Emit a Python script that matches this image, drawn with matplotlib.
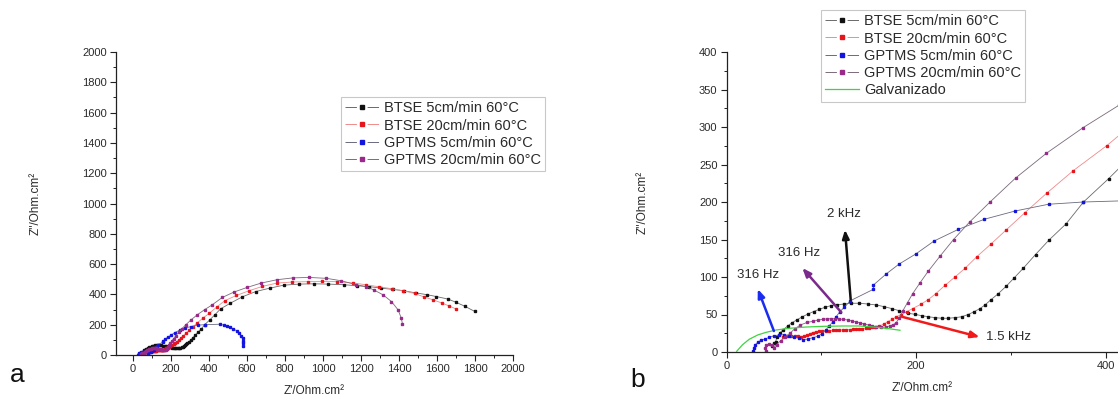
import matplotlib
matplotlib.use("Agg")
import matplotlib.pyplot as plt
from matplotlib.ticker import MultipleLocator
from matplotlib.lines import Line2D

plt.rcParams['font.family'] = ['Liberation Sans', 'DejaVu Sans']

# ---------------- data (Z' , Z'') ----------------
labels = ["BTSE 5cm/min 60°C", "BTSE 20cm/min 60°C",
          "GPTMS 5cm/min 60°C", "GPTMS 20cm/min 60°C", "Galvanizado"]

btse5_x = [48, 50, 52, 53, 56, 60, 64.5, 69, 74, 80, 86, 92, 98, 104, 110, 117, 124, 131,
           140, 149, 158, 166.5, 174.6, 182.4, 191.9, 199, 206, 213, 220, 227, 234, 241,
           248, 255, 261, 267.5, 273, 279, 286, 295, 303.6, 313.3, 326, 340, 358.3, 376.6,
           403, 430, 461, 512, 575, 646, 719, 793, 874, 953, 1026, 1109, 1181, 1240, 1307,
           1368, 1425, 1488, 1548, 1596, 1658, 1698, 1746, 1798]
btse5_y = [8, 12, 14, 20, 25, 30, 34.6, 39, 42.7, 47, 50.7, 54, 57, 59.6, 61.8, 63, 64, 65,
           65, 64, 62.7, 60.4, 57.8, 55, 51.6, 50.2, 48.4, 47, 45.8, 45, 45, 45.8,
           47, 50, 53.6, 58, 63, 69.8, 77, 87.6, 99, 112, 130, 149, 171, 200,
           231, 265, 305, 342, 384, 419, 441, 461, 468, 470, 468, 464, 457, 452, 441,
           433, 424, 410, 398, 386, 369, 349, 322, 288]

btse20_x = [60, 64, 68, 72, 75, 79, 82, 85, 88, 91, 94.5, 98, 101, 105, 108.5, 112, 115,
            119, 122.6, 126, 130, 133, 136.7, 140, 143, 147, 150.8, 154, 157, 161.4, 166,
            170, 175, 179, 184.5, 190, 196.5, 205, 213, 221, 230.6, 241, 252, 264, 279,
            295, 315, 338, 366, 401, 440, 482, 544, 610, 681, 758, 839, 921, 996, 1074,
            1158, 1225, 1295, 1365, 1421, 1482, 1530, 1579, 1628, 1663, 1698]
btse20_y = [20, 21, 22, 21.5, 21, 20.5, 21, 22.5, 24.5, 26, 27, 27.5, 28, 28.3, 28.6, 28.8,
            29, 29.3, 29.6, 29.8, 30, 30.3, 30.7, 31, 31.3, 31.6, 32, 33, 34, 35, 37,
            40.4, 43.5, 47, 50, 53.6, 58, 63.6, 70, 78, 89, 100, 112, 127, 144,
            162.7, 186, 212, 242, 275, 316, 358, 393, 424, 453, 475, 482, 484, 486, 484,
            475, 464, 450, 437, 424, 406, 384, 364, 342, 324, 305]

gptms5_x = [28.3, 28.7, 30.4, 32.9, 36.4, 41, 45, 50.5, 55.8, 61, 66.3, 71.6, 76.9, 81,
            85.7, 91, 96.2, 100.8, 105, 108.5, 112, 115.6, 119.8, 124.3, 130.7, 155, 155,
            168.4, 181.8, 200, 219, 244.7, 272, 304.5, 339.7, 376.6, 456, 477, 495, 512,
            528, 545, 558, 569, 576, 580, 581, 578]
gptms5_y = [0.9, 5.3, 9.8, 12.9, 15.6, 17.3, 19.6, 21.8, 22.7, 23, 21.8, 20, 18.2, 16.4,
            17.3, 19, 20.9, 24.4, 29.8, 35, 40, 47, 54, 59.6, 68.4, 83.6, 89.3,
            104, 117, 131, 148, 163.6, 177, 188, 197, 200, 203, 197, 190, 182,
            172, 160, 145, 128, 112, 95, 80, 62]

gptms20_x = [42, 41, 42, 45, 48, 50, 53, 57, 62, 67, 72, 78, 85, 91.6, 96, 101.5, 106, 110,
             114, 119, 123, 128, 132, 137, 141, 145.5, 150, 154, 158, 163, 168, 172, 176,
             179, 182, 186, 191, 196.5, 204, 213, 225.4, 239.5, 257, 278, 305, 337.5, 376,
             414, 470, 530, 600, 675, 758, 842, 926, 1018, 1096, 1175, 1228, 1267, 1316,
             1360, 1395, 1412, 1418]
gptms20_y = [1, 5, 9, 11, 9, 6, 10, 15, 20, 25, 31, 36, 39.5, 40.9, 42.5, 43.6, 44.2, 44.4,
             44.4, 44, 43.5, 42.7, 41.5, 40, 38.8, 37.3, 36, 34.7, 33.5, 33, 33.2, 34.7,
             36.5, 39, 45, 55, 66, 78, 92, 108, 128, 150, 174, 200, 232, 265, 299,
             329, 380, 415, 446, 475, 497, 509, 512, 506, 490, 464, 450, 430, 397,
             353, 298, 243, 205]

galv_x = [10.8, 17, 24, 32.9, 41.7, 52.2, 66.3, 83.9, 101.5, 122.6, 140, 157.7, 171.8, 183]
galv_y = [1, 9.8, 17, 22.7, 26.2, 29.3, 31.6, 33.3, 34.2, 34.7, 34.7, 33, 31, 29]

# annotations in panel b
ann_text = ["316 Hz", "316 Hz", "2 kHz", "1.5 kHz"]
ann_text_xy = [(33, 103), (77, 132), (124, 184), (274, 20)]
ann_tail = [(50, 28), (121, 53), (131, 70), (185, 47)]
ann_head = [(33, 84), (80, 112), (125, 163), (267, 20)]

left_xticks = list(range(0, 2001, 200))
left_yticks = list(range(0, 2001, 200))
right_xticks = [0, 200, 400]
right_yticks = list(range(0, 401, 50))

# ---------------- style ----------------
series = [
    (btse5_x, btse5_y, '#111111', '#6a6a6a'),
    (btse20_x, btse20_y, '#e8141c', '#f08a8a'),
    (gptms5_x, gptms5_y, '#1414e0', '#6a6a80'),
    (gptms20_x, gptms20_y, '#9a2a8a', '#7a6a7a'),
]
ann_colors = ['#1a2cf0', '#7b2a8c', '#111111', '#f01a1a']
galv_color = '#3fd43f'
txt = '#2a2a2a'
LEG_FS = 10.5
HLEN = 2.3

W, H = 1118, 398
fig = plt.figure(figsize=(W / 100, H / 100), dpi=100)


def fx(px):
    return px / W


def fy(py):
    return 1 - py / H


def style_axes(ax):
    for s in ('top', 'right'):
        ax.spines[s].set_visible(False)
    for s in ('left', 'bottom'):
        ax.spines[s].set_color('#222222')
        ax.spines[s].set_linewidth(0.9)
    ax.tick_params(which='major', direction='out', length=4.5, width=0.8,
                   labelsize=8, colors='#222222', labelcolor=txt, pad=2)
    ax.tick_params(which='minor', direction='out', length=2.5, width=0.7, colors='#222222')


def legend_handles(with_galv):
    L = HLEN * LEG_FS
    lw = 0.7
    hs = []
    for (_, _, mc, lc) in series:
        hs.append(Line2D([], [], color=lc, lw=lw, marker='s', ms=2.2, mfc=mc, mec=mc,
                         dashes=(0.34 * L / lw, 0.32 * L / lw)))
    if with_galv:
        hs.append(Line2D([], [], color=galv_color, lw=0.9))
    return hs


def make_legend(ax, n, x0, y0):
    leg = ax.legend(legend_handles(n == 5), labels[:n], loc='upper left',
                    bbox_to_anchor=(fx(x0), fy(y0)), bbox_transform=fig.transFigure,
                    fontsize=LEG_FS, frameon=True, fancybox=False, edgecolor='#bbbbbb',
                    handlelength=HLEN, handletextpad=0.35, borderpad=0.3,
                    labelspacing=0.22, borderaxespad=0, numpoints=1)
    leg.get_frame().set_linewidth(0.8)
    for t in leg.get_texts():
        t.set_color(txt)
    return leg


# ---- panel a ----
axa = fig.add_axes([fx(116), fy(355), fx(513 - 116), (355 - 52) / H])
for (x, y, mc, lc) in series:
    axa.plot(x, y, '-', color=lc, lw=0.6, marker='s', ms=1.6, mfc=mc, mec=mc)
axa.set_xlim(-90, 2000)
axa.set_ylim(0, 2000)
axa.set_xticks(left_xticks)
axa.set_yticks(left_yticks)
axa.xaxis.set_minor_locator(MultipleLocator(100))
axa.yaxis.set_minor_locator(MultipleLocator(100))
style_axes(axa)
axa.set_xlabel("Z'/Ohm.cm²", fontsize=8.5, color=txt, labelpad=8)
axa.set_ylabel("Z''/Ohm.cm²", fontsize=8.5, color=txt, labelpad=29)
make_legend(axa, 4, 341, 97)

# ---- panel b ----
axb = fig.add_axes([fx(726.5), fy(352), fx(W - 726.5), (352 - 52) / H])
for (x, y, mc, lc) in series:
    axb.plot(x, y, '-', color=lc, lw=0.6, marker='s', ms=1.8, mfc=mc, mec=mc)
axb.plot(galv_x, galv_y, '-', color=galv_color, lw=0.9)
axb.set_xlim(0, 413)
axb.set_ylim(0, 400)
axb.set_xticks(right_xticks)
axb.set_yticks(right_yticks)
axb.xaxis.set_minor_locator(MultipleLocator(100))
axb.yaxis.set_minor_locator(MultipleLocator(25))
style_axes(axb)
axb.set_xlabel("Z'/Ohm.cm²", fontsize=8.5, color=txt, labelpad=8)
axb.set_ylabel("Z''/Ohm.cm²", fontsize=8.5, color=txt, labelpad=36)

for t, txy, tail, head, c in zip(ann_text, ann_text_xy, ann_tail, ann_head, ann_colors):
    axb.annotate('', xy=head, xytext=tail,
                 arrowprops=dict(arrowstyle='-|>,head_length=0.5,head_width=0.2',
                                 color=c, lw=1.8, shrinkA=0, shrinkB=0))
    ha = 'left' if t == '1.5 kHz' else 'center'
    axb.text(txy[0], txy[1], t, fontsize=9.5, color=txt, ha=ha, va='center')

make_legend(axb, 5, 821, 10)

fig.text(fx(10), fy(375), 'a', fontsize=19, color='#111111', va='center', ha='left')
fig.text(fx(630), fy(380), 'b', fontsize=19, color='#111111', va='center', ha='left')

fig.savefig('out.png', dpi=100, facecolor='white')
